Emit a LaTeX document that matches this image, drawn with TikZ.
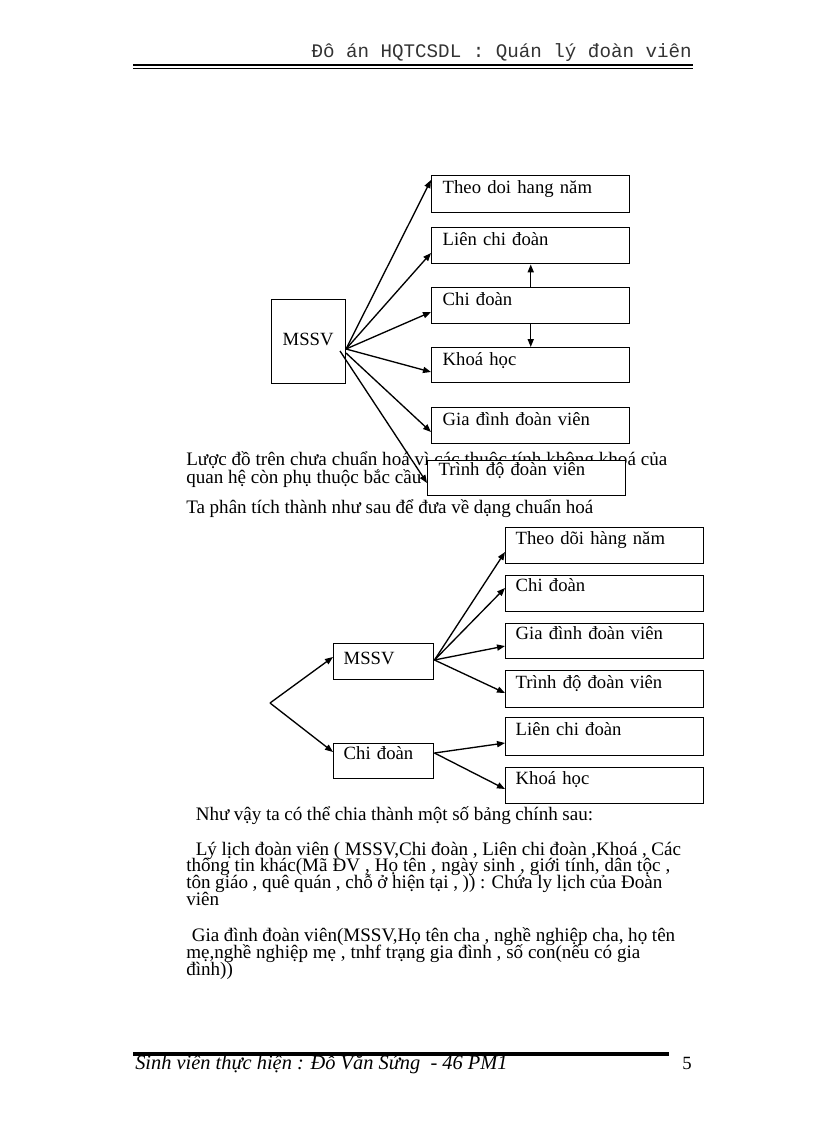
\documentclass[tikz,border=0pt]{standalone}
\usepackage{fontspec}
\setmainfont{Liberation Serif}
\newfontfamily\hdrfont{Liberation Mono}
\usetikzlibrary{arrows.meta}
\newcommand\fitln[2]{\hbox to #1{#2}}
\hbadness=10000
\begin{document}
\begin{tikzpicture}[x=0.75pt,y=-0.75pt,
  txt/.style={anchor=base west, inner sep=0pt, font=\fontsize{14.3pt}{13pt}\selectfont},
  bx/.style n args={3}{draw, line width=1.1pt, fill=white, inner ysep=0pt, inner xsep=8.25pt,
     align=left, anchor=north west, font=\fontsize{14pt}{13pt}\selectfont,
     text width=#1, text height=#2, text depth=#3},
  arr/.style={line width=1pt, -{Triangle[length=6pt,width=4.6pt]}}]
\useasboundingbox (0,0) rectangle (816,1123);

% header
\node[anchor=base east, inner sep=0pt, text=black!80, font=\hdrfont\fontsize{14.4pt}{16pt}\selectfont] (hdr) at (692,58) {Đô án HQTCSDL : Quán lý đoàn viên};
\draw[line width=1.5pt] (133,65.5) -- (693,65.5);
\draw[line width=0.75pt] (133,68.6) -- (693,68.6);

% paragraph under first diagram (drawn before the boxes)
\node[txt] (p1a) at (186,465) {\fitln{360.75pt}{Lược đồ trên chưa chuẩn hoá vì các thuộc tính không khoá của}};
\node[txt] (p1b) at (186,483) {quan hệ còn phụ thuộc bắc cầu};
\node[txt] (p2) at (186,513) {\fitln{305.25pt}{Ta phân tích thành như sau để đưa về dạng chuẩn hoá}};

% first diagram
\node[bx={39pt}{34.5pt}{28.5pt}] (m1) at (271,299) {MSSV};
\node[bx={132pt}{13.5pt}{14.25pt}] (t1) at (431,175) {Theo doi hang năm};
\node[bx={132pt}{13.5pt}{13.5pt}] (l1) at (431,227) {Liên chi đoàn};
\node[bx={132pt}{13.5pt}{13.5pt}] (c1) at (431,287) {Chi đoàn};
\node[bx={132pt}{13.5pt}{12.75pt}] (k1) at (431,347) {Khoá học};
\node[bx={132pt}{13.5pt}{13.5pt}] (g1) at (431,407) {Gia đình đoàn viên};
\coordinate (o1) at (346,349);
\coordinate (o1b) at (340,351);
\draw[arr] (o1) -- ([yshift=-3.75pt]t1.north west);
\draw[arr] (o1) -- ([yshift=-19.5pt]l1.north west);
\draw[arr] (o1) -- ([yshift=-18.75pt]c1.north west);
\draw[arr] (o1) -- ([yshift=-18.75pt]k1.north west);
\draw[arr] ([yshift=-3pt]o1) -- ([yshift=-18.75pt]g1.north west);
\draw[arr] (c1.north) -- (l1.south);
\draw[arr] (c1.south) -- (k1.north);
\node[bx={132pt}{11.25pt}{15pt}] (r1) at (427,460) {Trình độ đoàn viên};
\draw[arr] (o1b) -- ([yshift=-17.25pt]r1.north west);

% second diagram
\coordinate (s2) at (270,703);
\node[bx={60pt}{15.75pt}{11.25pt}, inner xsep=7.5pt] (m2) at (333,643) {MSSV};
\node[bx={60pt}{12pt}{14.25pt}, inner xsep=7.5pt] (d2) at (333,743) {Chi đoàn};
\node[bx={133.5pt}{12.75pt}{14.25pt}, inner xsep=7.5pt] (t2) at (505,527) {Theo dõi hàng năm};
\node[bx={133.5pt}{12pt}{15pt}, inner xsep=7.5pt] (c2) at (505,575) {Chi đoàn};
\node[bx={133.5pt}{12pt}{14.25pt}, inner xsep=7.5pt] (g2) at (505,623) {Gia đình đoàn viên};
\node[bx={133.5pt}{13.5pt}{14.25pt}, inner xsep=7.5pt] (r2) at (505,670) {Trình độ đoàn viên};
\node[bx={133.5pt}{13.5pt}{15pt}, inner xsep=7.5pt] (l2) at (505,717) {Liên chi đoàn};
\node[bx={133.5pt}{12.75pt}{14.25pt}, inner xsep=7.5pt] (k2) at (505,767) {Khoá học};
\draw[arr] (s2) -- ([yshift=-10.5pt]m2.north west);
\draw[arr] (s2) -- ([yshift=-6.75pt]d2.north west);
\draw[arr] ([yshift=-12.75pt]m2.north east) -- ([yshift=-18.75pt]t2.north west);
\draw[arr] ([yshift=-12.75pt]m2.north east) -- ([yshift=-9.75pt]c2.north west);
\draw[arr] ([yshift=-12.75pt]m2.north east) -- ([yshift=-17.25pt]g2.north west);
\draw[arr] ([yshift=-12.75pt]m2.north east) -- ([yshift=-17.25pt]r2.north west);
\draw[arr] ([yshift=-7.5pt]d2.north east) -- ([yshift=-19.5pt]l2.north west);
\draw[arr] ([yshift=-7.5pt]d2.north east) -- ([yshift=-16.5pt]k2.north west);

% text below
\node[txt] (p3) at (195.5,820) {\fitln{298pt}{Như vậy ta có thể chia thành một số bảng chính sau:}};
\node[txt] (p4a) at (195.5,855) {\fitln{364pt}{Lý lịch đoàn viên ( MSSV,Chi đoàn , Liên chi đoàn ,Khoá , Các}};
\node[txt] (p4b) at (186,871.5) {\fitln{363pt}{thông tin khác(Mã ĐV , Họ tên , ngày sinh , giới tính, dân tộc ,}};
\node[txt] (p4c) at (186,888) {\fitln{357pt}{tôn giáo , quê quán , chỗ ở hiện tại , )) : Chứa ly lịch của Đoàn}};
\node[txt] (p4d) at (186,905) {viên};
\node[txt] (p5a) at (191.5,941.5) {\fitln{362.6pt}{Gia đình đoàn viên(MSSV,Họ tên cha , nghề nghiệp cha, họ tên}};
\node[txt] (p5b) at (186,958) {\fitln{340.5pt}{mẹ,nghề nghiệp mẹ , tnhf trạng gia đình , số con(nếu có gia}};
\node[txt] (p5c) at (186,975) {đình))};

% footer
\draw[line width=2.4pt] (133,1054) -- (669,1054);
\node[anchor=base west, inner sep=0pt, font=\itshape\fontsize{15.3pt}{16pt}\selectfont] (ftr) at (135,1069) {Sinh viên thực hiện : Đỗ Văn Sứng \ - 46 PM1};
\node[anchor=base east, inner sep=0pt, font=\fontsize{14pt}{16pt}\selectfont] (pg) at (692,1069) {5};
\end{tikzpicture}
\end{document}
